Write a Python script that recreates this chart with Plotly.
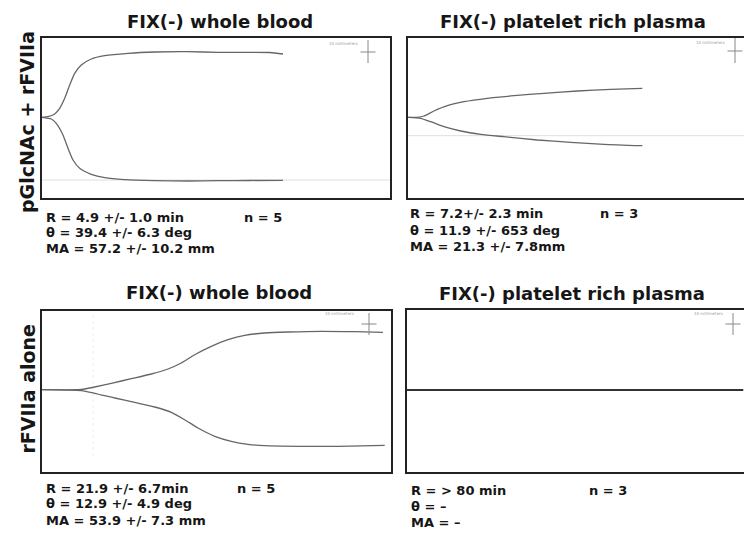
import plotly.graph_objects as go

W, H = 744, 543

# ---------------- data (time units, half-amplitude mm) ----------------
panel_titles = ["FIX(-) whole blood", "FIX(-) platelet rich plasma",
                "FIX(-) whole blood", "FIX(-) platelet rich plasma"]
row_labels = ["pGlcNAc + rFVIIa", "rFVIIa alone"]

stats_lines = [
    ["R = 4.9 +/- 1.0 min", "θ = 39.4 +/- 6.3 deg", "MA = 57.2 +/- 10.2 mm"],
    ["R = 7.2+/- 2.3 min", "θ = 11.9 +/- 653 deg", "MA = 21.3 +/- 7.8mm"],
    ["R = 21.9 +/- 6.7min", "θ = 12.9 +/- 4.9 deg", "MA = 53.9 +/- 7.3 mm"],
    ["R = > 80 min", "θ = –", "MA = –"],
]
n_labels = ["n = 5", "n = 3", "n = 5", "n = 3"]

# Top-left: whole blood, pGlcNAc + rFVIIa
tl_up_t = [0, 1.72, 3.65, 5.08, 6.52, 7.95, 9.40, 11.29, 14.17, 18.02, 24.71, 32.39, 41.95, 50.57, 59.77, 65.52, 69.25]
tl_up_a = [0, 0.3, 1.65, 4.5, 9.5, 16.15, 22, 26.15, 29.15, 30.8, 32, 32.65, 32.8, 32.5, 32.5, 32.4, 31.65]
tl_lo_t = [0, 2.67, 4.10, 6.03, 7.47, 8.91, 10.83, 14.17, 18.02, 23.76, 32.39, 41.95, 50.57, 59.77, 69.25]
tl_lo_a = [0, -0.85, -3, -8.85, -15.5, -21.35, -25.5, -28.5, -30.2, -31.2, -31.7, -31.85, -31.7, -31.6, -31.5]
tl_base = -31.35

# Top-right: platelet rich plasma, pGlcNAc + rFVIIa
tr_up_t = [0, 2.67, 4.6, 7.47, 11.3, 16.09, 22.79, 30.46, 39.08, 48.65, 58.25, 67.33]
tr_up_a = [0, 0, 0.65, 3.15, 5.8, 7.8, 9.5, 10.8, 12, 13.15, 14, 14.5]
tr_lo_t = [0, 3.65, 6.52, 10.34, 15.14, 20.89, 27.59, 37.16, 46.75, 56.32, 67.33]
tr_lo_a = [0, -0.5, -2.2, -4.7, -6.85, -8.5, -9.7, -11.35, -12.5, -13.5, -14.2]
tr_base = -9.2

# Bottom-left: whole blood, rFVIIa alone
bl_up_t = [0, 10.34, 12.27, 15.14, 19.92, 25.66, 31.41, 36.21, 40.03, 43.88, 48.65, 53.45, 58.25, 63.99, 70.69, 80.26, 89.86, 97.99]
bl_up_a = [0, 0, 0.35, 1.35, 3.2, 5.5, 7.85, 10.35, 13.35, 17.5, 21.7, 25, 27.2, 28.35, 28.85, 29.2, 29, 28.7]
bl_lo_t = [0, 11.29, 15.14, 20.89, 26.64, 32.39, 37.16, 41.0, 44.83, 49.63, 54.40, 59.2, 64.0, 73.56, 85.06, 98.48]
bl_lo_a = [0, -0.5, -1.8, -4.15, -6.3, -8.65, -11.3, -15, -19.15, -23.3, -25.8, -27.3, -28, -28.3, -28.3, -27.8]
bl_mark_t = 14.7

# Bottom-right: platelet rich plasma, rFVIIa alone (no clot)
br_t = [0, 96.6]
br_a = [0, 0]

# ---------------- layout helpers (pixel -> paper) ----------------
def px(x):
    return x / W

def py(y):
    return 1 - y / H

boxes = {  # left, right, top, bottom in pixels
    1: (42, 390, 38, 198),
    2: (408, 744, 38, 198),
    3: (42, 391, 311, 472),
    4: (407, 744, 310, 472),
}
xranges = {1: [0, 100], 2: [0, 96.55], 3: [0, 100.3], 4: [0, 96.8]}
yranges = {1: [-40.35, 39.65], 2: [-40.35, 39.65], 3: [-41.15, 39.35], 4: [-41.0, 40.0]}

fig = go.Figure()

CURVE = dict(color="#666666", width=1.3)
BASE = dict(color="#dedede", width=1)

def add(i, t, a, line):
    xa = "x" if i == 1 else f"x{i}"
    ya = "y" if i == 1 else f"y{i}"
    fig.add_trace(go.Scatter(x=t, y=a, mode="lines", line=dict(**line, shape="spline", smoothing=0.6),
                             xaxis=xa, yaxis=ya, hoverinfo="skip"))

# baselines (faint)
add(1, [0, xranges[1][1]], [tl_base, tl_base], BASE)
add(2, [0, xranges[2][1]], [tr_base, tr_base], BASE)
add(3, [bl_mark_t, bl_mark_t], [yranges[3][0] + 8, yranges[3][1] - 2], dict(color="#ededed", width=1, dash="dot"))

add(1, tl_up_t, tl_up_a, CURVE)
add(1, tl_lo_t, tl_lo_a, CURVE)
add(2, tr_up_t, tr_up_a, CURVE)
add(2, tr_lo_t, tr_lo_a, CURVE)
add(3, bl_up_t, bl_up_a, CURVE)
add(3, bl_lo_t, bl_lo_a, CURVE)
add(4, br_t, br_a, dict(color="#333333", width=1.8))

layout = dict(width=W, height=H, margin=dict(l=0, r=0, t=0, b=0),
              paper_bgcolor="white", plot_bgcolor="white", showlegend=False)

for i, (l, r, t, b) in boxes.items():
    right_col = i in (2, 4)
    xk = "xaxis" if i == 1 else f"xaxis{i}"
    yk = "yaxis" if i == 1 else f"yaxis{i}"
    layout[xk] = dict(domain=[px(l), px(r)], range=xranges[i], showgrid=False, zeroline=False,
                      showticklabels=False, ticks="", showline=True, mirror=True,
                      linecolor="#222222", linewidth=2, anchor="y" if i == 1 else f"y{i}")
    layout[yk] = dict(domain=[py(b), py(t)], range=yranges[i], showgrid=False, zeroline=False,
                      showticklabels=False, ticks="", showline=True, mirror=not right_col,
                      linecolor="#222222", linewidth=2, anchor="x" if i == 1 else f"x{i}")

fig.update_layout(**layout)

FONT = "DejaVu Sans"
TXT = "#161616"
ann = []

# panel titles
title_pos = [(220, 21), (573, 21), (219, 292), (572, 293)]
for title, (x, y) in zip(panel_titles, title_pos):
    ann.append(dict(text=f"<b>{title}</b>", x=px(x), y=py(y), xref="paper", yref="paper",
                    xanchor="center", yanchor="middle", showarrow=False,
                    font=dict(family=FONT, size=18, color=TXT)))

# row labels
for lab, y in zip(row_labels, [122, 389.5]):
    ann.append(dict(text=f"<b>{lab}</b>", x=px(27), y=py(y), xref="paper", yref="paper",
                    xanchor="center", yanchor="middle", textangle=-90, showarrow=False,
                    font=dict(family=FONT, size=19, color=TXT)))

# stats
stat_x = [44, 408, 44, 409]
stat_y = [[217, 232, 248.5], [213, 230, 246.5], [488.5, 503.5, 520], [490, 506.5, 522]]
n_x = [242, 598, 235, 587]
for k in range(4):
    for line, y in zip(stats_lines[k], stat_y[k]):
        ann.append(dict(text=f"<b>{line}</b>", x=px(stat_x[k]), y=py(y), xref="paper", yref="paper",
                        xanchor="left", yanchor="middle", showarrow=False,
                        font=dict(family=FONT, size=13, color=TXT)))
    ann.append(dict(text=f"<b>{n_labels[k]}</b>", x=px(n_x[k]), y=py(stat_y[k][0]), xref="paper", yref="paper",
                    xanchor="left", yanchor="middle", showarrow=False,
                    font=dict(family=FONT, size=13, color=TXT)))

# scale markers ("10 millimeters" + crosshair)
scale_marks = [  # text x-center, text y, cross x, cross y, half-width, top, bottom
    (343, 43, 368, 52, 7.5, 40, 63),
    (710, 42, 735, 51, 7.5, 38, 63),
    (339, 313, 369, 324, 7.5, 313, 335),
    (708, 313, 733, 324, 7.5, 313, 335),
]
shapes = []
for tx, ty, cx, cy, hw, vt, vb in scale_marks:
    ann.append(dict(text="10 millimeters", x=px(tx), y=py(ty), xref="paper", yref="paper",
                    xanchor="center", yanchor="middle", showarrow=False,
                    font=dict(family=FONT, size=4, color="#999999")))
    shapes.append(dict(type="line", xref="paper", yref="paper", x0=px(cx - hw), x1=px(cx + hw),
                       y0=py(cy), y1=py(cy), line=dict(color="#888888", width=1)))
    shapes.append(dict(type="line", xref="paper", yref="paper", x0=px(cx), x1=px(cx),
                       y0=py(vt), y1=py(vb), line=dict(color="#888888", width=1)))

fig.update_layout(annotations=ann, shapes=shapes)
fig.write_html("out.html", config={"displayModeBar": False},
               post_script="document.body.style.margin='0';document.body.style.overflow='hidden';")
